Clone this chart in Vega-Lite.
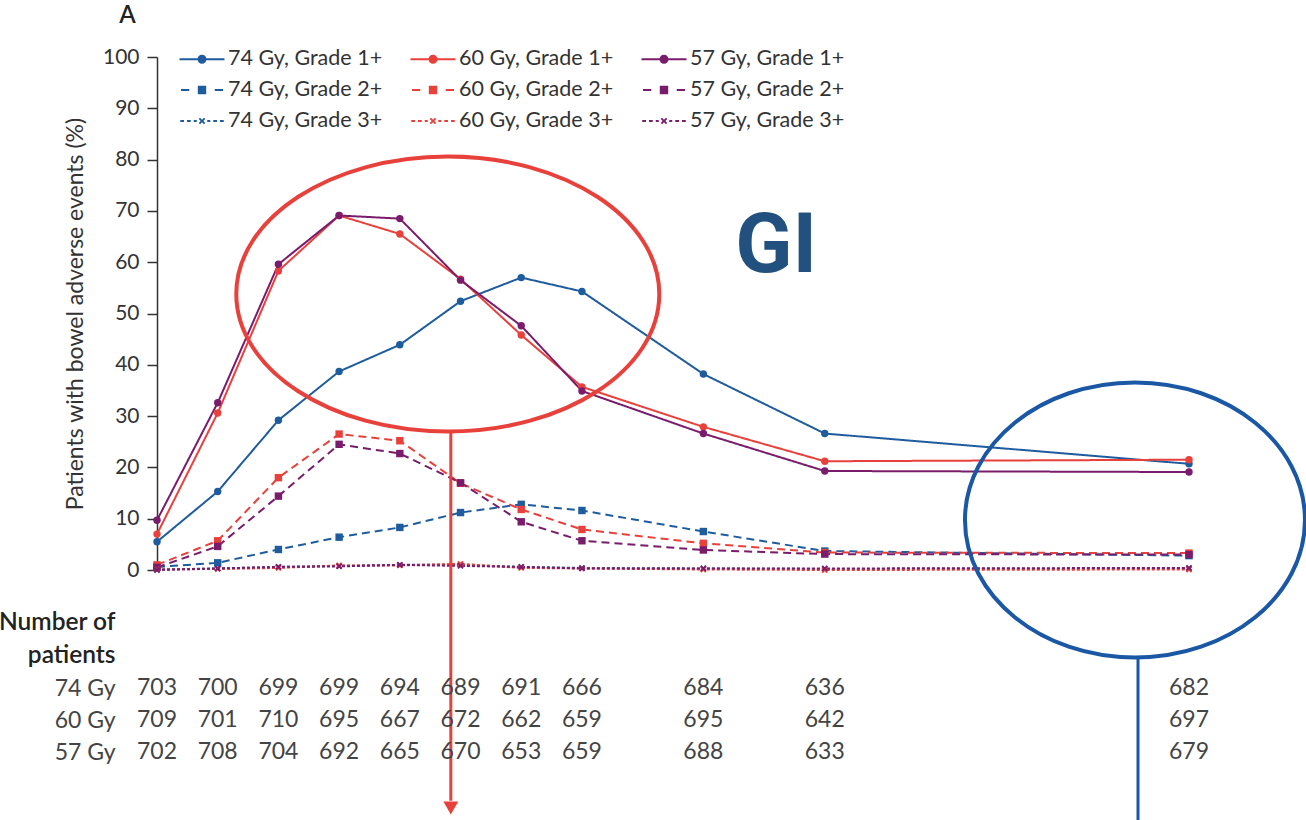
{
  "$schema": "https://vega.github.io/schema/vega-lite/v6.json",
  "width": 1032,
  "height": 513,
  "autosize": {"type": "none"},
  "padding": {"left": 157, "top": 57, "right": 117, "bottom": 250},
  "background": "white",
  "config": {
    "view": {"stroke": null},
    "font": "Lato",
    "axis": {"labelFont": "Lato", "titleFont": "Lato"},
    "legend": {"labelFont": "Lato"},
    "text": {"font": "Lato"}
  },
  "datasets": {
    "curves": [
      {"month": 1, "series": "74 Gy, Grade 1+", "value": 5.5},
      {"month": 2, "series": "74 Gy, Grade 1+", "value": 15.3},
      {"month": 3, "series": "74 Gy, Grade 1+", "value": 29.2},
      {"month": 4, "series": "74 Gy, Grade 1+", "value": 38.7},
      {"month": 5, "series": "74 Gy, Grade 1+", "value": 43.9},
      {"month": 6, "series": "74 Gy, Grade 1+", "value": 52.4},
      {"month": 7, "series": "74 Gy, Grade 1+", "value": 57.0},
      {"month": 8, "series": "74 Gy, Grade 1+", "value": 54.3},
      {"month": 10, "series": "74 Gy, Grade 1+", "value": 38.2},
      {"month": 12, "series": "74 Gy, Grade 1+", "value": 26.6},
      {"month": 18, "series": "74 Gy, Grade 1+", "value": 20.7},
      {"month": 1, "series": "60 Gy, Grade 1+", "value": 7.0},
      {"month": 2, "series": "60 Gy, Grade 1+", "value": 30.6},
      {"month": 3, "series": "60 Gy, Grade 1+", "value": 58.3},
      {"month": 4, "series": "60 Gy, Grade 1+", "value": 69.1},
      {"month": 5, "series": "60 Gy, Grade 1+", "value": 65.5},
      {"month": 6, "series": "60 Gy, Grade 1+", "value": 56.7},
      {"month": 7, "series": "60 Gy, Grade 1+", "value": 45.8},
      {"month": 8, "series": "60 Gy, Grade 1+", "value": 35.7},
      {"month": 10, "series": "60 Gy, Grade 1+", "value": 27.9},
      {"month": 12, "series": "60 Gy, Grade 1+", "value": 21.2},
      {"month": 18, "series": "60 Gy, Grade 1+", "value": 21.5},
      {"month": 1, "series": "57 Gy, Grade 1+", "value": 9.7},
      {"month": 2, "series": "57 Gy, Grade 1+", "value": 32.6},
      {"month": 3, "series": "57 Gy, Grade 1+", "value": 59.6},
      {"month": 4, "series": "57 Gy, Grade 1+", "value": 69.1},
      {"month": 5, "series": "57 Gy, Grade 1+", "value": 68.5},
      {"month": 6, "series": "57 Gy, Grade 1+", "value": 56.5},
      {"month": 7, "series": "57 Gy, Grade 1+", "value": 47.6},
      {"month": 8, "series": "57 Gy, Grade 1+", "value": 34.9},
      {"month": 10, "series": "57 Gy, Grade 1+", "value": 26.6},
      {"month": 12, "series": "57 Gy, Grade 1+", "value": 19.3},
      {"month": 18, "series": "57 Gy, Grade 1+", "value": 19.1},
      {"month": 1, "series": "74 Gy, Grade 2+", "value": 0.6},
      {"month": 2, "series": "74 Gy, Grade 2+", "value": 1.4},
      {"month": 3, "series": "74 Gy, Grade 2+", "value": 4.0},
      {"month": 4, "series": "74 Gy, Grade 2+", "value": 6.4},
      {"month": 5, "series": "74 Gy, Grade 2+", "value": 8.3},
      {"month": 6, "series": "74 Gy, Grade 2+", "value": 11.2},
      {"month": 7, "series": "74 Gy, Grade 2+", "value": 12.8},
      {"month": 8, "series": "74 Gy, Grade 2+", "value": 11.6},
      {"month": 10, "series": "74 Gy, Grade 2+", "value": 7.5},
      {"month": 12, "series": "74 Gy, Grade 2+", "value": 3.7},
      {"month": 18, "series": "74 Gy, Grade 2+", "value": 2.8},
      {"month": 1, "series": "60 Gy, Grade 2+", "value": 1.0},
      {"month": 2, "series": "60 Gy, Grade 2+", "value": 5.7},
      {"month": 3, "series": "60 Gy, Grade 2+", "value": 18.0},
      {"month": 4, "series": "60 Gy, Grade 2+", "value": 26.5},
      {"month": 5, "series": "60 Gy, Grade 2+", "value": 25.2},
      {"month": 6, "series": "60 Gy, Grade 2+", "value": 16.9},
      {"month": 7, "series": "60 Gy, Grade 2+", "value": 11.8},
      {"month": 8, "series": "60 Gy, Grade 2+", "value": 7.9},
      {"month": 10, "series": "60 Gy, Grade 2+", "value": 5.2},
      {"month": 12, "series": "60 Gy, Grade 2+", "value": 3.4},
      {"month": 18, "series": "60 Gy, Grade 2+", "value": 3.3},
      {"month": 1, "series": "57 Gy, Grade 2+", "value": 0.5},
      {"month": 2, "series": "57 Gy, Grade 2+", "value": 4.6},
      {"month": 3, "series": "57 Gy, Grade 2+", "value": 14.4},
      {"month": 4, "series": "57 Gy, Grade 2+", "value": 24.5},
      {"month": 5, "series": "57 Gy, Grade 2+", "value": 22.7},
      {"month": 6, "series": "57 Gy, Grade 2+", "value": 17.0},
      {"month": 7, "series": "57 Gy, Grade 2+", "value": 9.4},
      {"month": 8, "series": "57 Gy, Grade 2+", "value": 5.7},
      {"month": 10, "series": "57 Gy, Grade 2+", "value": 3.9},
      {"month": 12, "series": "57 Gy, Grade 2+", "value": 3.1},
      {"month": 18, "series": "57 Gy, Grade 2+", "value": 3.0},
      {"month": 1, "series": "74 Gy, Grade 3+", "value": 0.1},
      {"month": 2, "series": "74 Gy, Grade 3+", "value": 0.3},
      {"month": 3, "series": "74 Gy, Grade 3+", "value": 0.6},
      {"month": 4, "series": "74 Gy, Grade 3+", "value": 0.8},
      {"month": 5, "series": "74 Gy, Grade 3+", "value": 1.0},
      {"month": 6, "series": "74 Gy, Grade 3+", "value": 1.0},
      {"month": 7, "series": "74 Gy, Grade 3+", "value": 0.6},
      {"month": 8, "series": "74 Gy, Grade 3+", "value": 0.4},
      {"month": 10, "series": "74 Gy, Grade 3+", "value": 0.3},
      {"month": 12, "series": "74 Gy, Grade 3+", "value": 0.2},
      {"month": 18, "series": "74 Gy, Grade 3+", "value": 0.3},
      {"month": 1, "series": "60 Gy, Grade 3+", "value": 0.1},
      {"month": 2, "series": "60 Gy, Grade 3+", "value": 0.2},
      {"month": 3, "series": "60 Gy, Grade 3+", "value": 0.4},
      {"month": 4, "series": "60 Gy, Grade 3+", "value": 0.9},
      {"month": 5, "series": "60 Gy, Grade 3+", "value": 0.9},
      {"month": 6, "series": "60 Gy, Grade 3+", "value": 1.2},
      {"month": 7, "series": "60 Gy, Grade 3+", "value": 0.4},
      {"month": 8, "series": "60 Gy, Grade 3+", "value": 0.3},
      {"month": 10, "series": "60 Gy, Grade 3+", "value": 0.1},
      {"month": 12, "series": "60 Gy, Grade 3+", "value": 0.0},
      {"month": 18, "series": "60 Gy, Grade 3+", "value": 0.1},
      {"month": 1, "series": "57 Gy, Grade 3+", "value": 0.0},
      {"month": 2, "series": "57 Gy, Grade 3+", "value": 0.3},
      {"month": 3, "series": "57 Gy, Grade 3+", "value": 0.6},
      {"month": 4, "series": "57 Gy, Grade 3+", "value": 0.7},
      {"month": 5, "series": "57 Gy, Grade 3+", "value": 1.0},
      {"month": 6, "series": "57 Gy, Grade 3+", "value": 0.8},
      {"month": 7, "series": "57 Gy, Grade 3+", "value": 0.6},
      {"month": 8, "series": "57 Gy, Grade 3+", "value": 0.3},
      {"month": 10, "series": "57 Gy, Grade 3+", "value": 0.3},
      {"month": 12, "series": "57 Gy, Grade 3+", "value": 0.3},
      {"month": 18, "series": "57 Gy, Grade 3+", "value": 0.4}
    ],
    "counts": [
      {"month": 1, "dose": "74 Gy", "n": 703}, {"month": 2, "dose": "74 Gy", "n": 700}, {"month": 3, "dose": "74 Gy", "n": 699},
      {"month": 4, "dose": "74 Gy", "n": 699}, {"month": 5, "dose": "74 Gy", "n": 694}, {"month": 6, "dose": "74 Gy", "n": 689},
      {"month": 7, "dose": "74 Gy", "n": 691}, {"month": 8, "dose": "74 Gy", "n": 666}, {"month": 10, "dose": "74 Gy", "n": 684},
      {"month": 12, "dose": "74 Gy", "n": 636}, {"month": 18, "dose": "74 Gy", "n": 682},
      {"month": 1, "dose": "60 Gy", "n": 709}, {"month": 2, "dose": "60 Gy", "n": 701}, {"month": 3, "dose": "60 Gy", "n": 710},
      {"month": 4, "dose": "60 Gy", "n": 695}, {"month": 5, "dose": "60 Gy", "n": 667}, {"month": 6, "dose": "60 Gy", "n": 672},
      {"month": 7, "dose": "60 Gy", "n": 662}, {"month": 8, "dose": "60 Gy", "n": 659}, {"month": 10, "dose": "60 Gy", "n": 695},
      {"month": 12, "dose": "60 Gy", "n": 642}, {"month": 18, "dose": "60 Gy", "n": 697},
      {"month": 1, "dose": "57 Gy", "n": 702}, {"month": 2, "dose": "57 Gy", "n": 708}, {"month": 3, "dose": "57 Gy", "n": 704},
      {"month": 4, "dose": "57 Gy", "n": 692}, {"month": 5, "dose": "57 Gy", "n": 665}, {"month": 6, "dose": "57 Gy", "n": 670},
      {"month": 7, "dose": "57 Gy", "n": 653}, {"month": 8, "dose": "57 Gy", "n": 659}, {"month": 10, "dose": "57 Gy", "n": 688},
      {"month": 12, "dose": "57 Gy", "n": 633}, {"month": 18, "dose": "57 Gy", "n": 679}
    ]
  },
  "layer": [
    {
      "layer": [
        {
          "data": {"name": "curves"},
          "mark": {"type": "point", "filled": true, "opacity": 0},
          "encoding": {
            "x": {"field": "month", "type": "quantitative",
              "scale": {"domain": [1, 18], "nice": false, "zero": false},
              "axis": {"values": [1, 2, 3, 4, 5, 6, 7, 8, 10, 12, 18], "title": null, "grid": false, "labelFontSize": 21, "labelColor": "#333", "tickSize": 8, "labelPadding": 13, "domainColor": "#333", "tickColor": "#333", "domainWidth": 1.5, "tickWidth": 1.5}},
            "y": {"field": "value", "type": "quantitative",
              "scale": {"domain": [0, 100], "nice": false},
              "axis": {"values": [0, 10, 20, 30, 40, 50, 60, 70, 80, 90, 100], "title": "Patients with bowel adverse events (%)", "grid": false, "labelFontSize": 21, "labelColor": "#333", "titleFontSize": 23, "titleFontWeight": "normal", "titleColor": "#333", "titlePadding": 15, "tickSize": 10, "labelPadding": 8, "domainColor": "#333", "tickColor": "#333", "domainWidth": 1.5, "tickWidth": 1.5}},
            "color": {"field": "series", "type": "nominal",
              "scale": {
                "domain": ["74 Gy, Grade 1+", "74 Gy, Grade 2+", "74 Gy, Grade 3+", "60 Gy, Grade 1+", "60 Gy, Grade 2+", "60 Gy, Grade 3+", "57 Gy, Grade 1+", "57 Gy, Grade 2+", "57 Gy, Grade 3+"],
                "range": ["#1f5c9e", "#1f5c9e", "#1f5c9e", "#e8413c", "#e8413c", "#e8413c", "#7a1c6c", "#7a1c6c", "#7a1c6c"]},
              "legend": {
                "title": null, "orient": "none", "legendX": 30, "legendY": -13, "columns": 3, "columnPadding": 27, "rowPadding": 5,
                "labelFontSize": 21.5, "labelColor": "#333", "symbolSize": 900, "symbolStrokeWidth": 0, "symbolOpacity": 1, "labelOffset": 11, "padding": 0}},
            "shape": {"field": "series", "type": "nominal",
              "scale": {
                "domain": ["74 Gy, Grade 1+", "74 Gy, Grade 2+", "74 Gy, Grade 3+", "60 Gy, Grade 1+", "60 Gy, Grade 2+", "60 Gy, Grade 3+", "57 Gy, Grade 1+", "57 Gy, Grade 2+", "57 Gy, Grade 3+"],
                "range": [
                  "M -1.5 -0.07 L 1.5 -0.07 L 1.5 0.07 L -1.5 0.07 Z M -0.3 0 C -0.3 -0.166 -0.166 -0.3 0 -0.3 C 0.166 -0.3 0.3 -0.166 0.3 0 C 0.3 0.166 0.166 0.3 0 0.3 C -0.166 0.3 -0.3 0.166 -0.3 0 Z",
                  "M -1.4 -0.07 L -0.85 -0.07 L -0.85 0.07 L -1.4 0.07 Z M 0.85 -0.07 L 1.4 -0.07 L 1.4 0.07 L 0.85 0.07 Z M -0.28 -0.28 L 0.28 -0.28 L 0.28 0.28 L -0.28 0.28 Z",
                  "M -1.45 -0.06 L -1.2 -0.06 L -1.2 0.06 L -1.45 0.06 Z M -1.0 -0.06 L -0.75 -0.06 L -0.75 0.06 L -1.0 0.06 Z M -0.55 -0.06 L -0.35 -0.06 L -0.35 0.06 L -0.55 0.06 Z M 0.35 -0.06 L 0.55 -0.06 L 0.55 0.06 L 0.35 0.06 Z M 0.75 -0.06 L 1.0 -0.06 L 1.0 0.06 L 0.75 0.06 Z M 1.2 -0.06 L 1.45 -0.06 L 1.45 0.06 L 1.2 0.06 Z M -0.22 -0.13 L -0.13 -0.22 L 0 -0.09 L 0.13 -0.22 L 0.22 -0.13 L 0.09 0 L 0.22 0.13 L 0.13 0.22 L 0 0.09 L -0.13 0.22 L -0.22 0.13 L -0.09 0 Z",
                  "M -1.5 -0.07 L 1.5 -0.07 L 1.5 0.07 L -1.5 0.07 Z M -0.3 0 C -0.3 -0.166 -0.166 -0.3 0 -0.3 C 0.166 -0.3 0.3 -0.166 0.3 0 C 0.3 0.166 0.166 0.3 0 0.3 C -0.166 0.3 -0.3 0.166 -0.3 0 Z",
                  "M -1.4 -0.07 L -0.85 -0.07 L -0.85 0.07 L -1.4 0.07 Z M 0.85 -0.07 L 1.4 -0.07 L 1.4 0.07 L 0.85 0.07 Z M -0.28 -0.28 L 0.28 -0.28 L 0.28 0.28 L -0.28 0.28 Z",
                  "M -1.45 -0.06 L -1.2 -0.06 L -1.2 0.06 L -1.45 0.06 Z M -1.0 -0.06 L -0.75 -0.06 L -0.75 0.06 L -1.0 0.06 Z M -0.55 -0.06 L -0.35 -0.06 L -0.35 0.06 L -0.55 0.06 Z M 0.35 -0.06 L 0.55 -0.06 L 0.55 0.06 L 0.35 0.06 Z M 0.75 -0.06 L 1.0 -0.06 L 1.0 0.06 L 0.75 0.06 Z M 1.2 -0.06 L 1.45 -0.06 L 1.45 0.06 L 1.2 0.06 Z M -0.22 -0.13 L -0.13 -0.22 L 0 -0.09 L 0.13 -0.22 L 0.22 -0.13 L 0.09 0 L 0.22 0.13 L 0.13 0.22 L 0 0.09 L -0.13 0.22 L -0.22 0.13 L -0.09 0 Z",
                  "M -1.5 -0.07 L 1.5 -0.07 L 1.5 0.07 L -1.5 0.07 Z M -0.3 0 C -0.3 -0.166 -0.166 -0.3 0 -0.3 C 0.166 -0.3 0.3 -0.166 0.3 0 C 0.3 0.166 0.166 0.3 0 0.3 C -0.166 0.3 -0.3 0.166 -0.3 0 Z",
                  "M -1.4 -0.07 L -0.85 -0.07 L -0.85 0.07 L -1.4 0.07 Z M 0.85 -0.07 L 1.4 -0.07 L 1.4 0.07 L 0.85 0.07 Z M -0.28 -0.28 L 0.28 -0.28 L 0.28 0.28 L -0.28 0.28 Z",
                  "M -1.45 -0.06 L -1.2 -0.06 L -1.2 0.06 L -1.45 0.06 Z M -1.0 -0.06 L -0.75 -0.06 L -0.75 0.06 L -1.0 0.06 Z M -0.55 -0.06 L -0.35 -0.06 L -0.35 0.06 L -0.55 0.06 Z M 0.35 -0.06 L 0.55 -0.06 L 0.55 0.06 L 0.35 0.06 Z M 0.75 -0.06 L 1.0 -0.06 L 1.0 0.06 L 0.75 0.06 Z M 1.2 -0.06 L 1.45 -0.06 L 1.45 0.06 L 1.2 0.06 Z M -0.22 -0.13 L -0.13 -0.22 L 0 -0.09 L 0.13 -0.22 L 0.22 -0.13 L 0.09 0 L 0.22 0.13 L 0.13 0.22 L 0 0.09 L -0.13 0.22 L -0.22 0.13 L -0.09 0 Z"
                ]}}
          }
        },
        {
          "data": {"name": "curves"},
          "mark": {"type": "line", "strokeWidth": 2},
          "encoding": {
            "x": {"field": "month", "type": "quantitative"},
            "y": {"field": "value", "type": "quantitative"},
            "color": {"field": "series", "type": "nominal"},
            "strokeDash": {"field": "series", "type": "nominal", "legend": null,
              "scale": {
                "domain": ["74 Gy, Grade 1+", "74 Gy, Grade 2+", "74 Gy, Grade 3+", "60 Gy, Grade 1+", "60 Gy, Grade 2+", "60 Gy, Grade 3+", "57 Gy, Grade 1+", "57 Gy, Grade 2+", "57 Gy, Grade 3+"],
                "range": [[1, 0], [8, 5], [3, 2], [1, 0], [8, 5], [3, 2], [1, 0], [8, 5], [3, 2]]}}
          }
        },
        {
          "data": {"name": "curves"},
          "transform": [{"filter": "indexof(datum.series, 'Grade 1+') >= 0"}],
          "mark": {"type": "point", "shape": "circle", "filled": true, "opacity": 1, "size": 55},
          "encoding": {
            "x": {"field": "month", "type": "quantitative"},
            "y": {"field": "value", "type": "quantitative"},
            "color": {"field": "series", "type": "nominal"}
          }
        },
        {
          "data": {"name": "curves"},
          "transform": [{"filter": "indexof(datum.series, 'Grade 2+') >= 0"}],
          "mark": {"type": "point", "shape": "square", "filled": true, "opacity": 1, "size": 55},
          "encoding": {
            "x": {"field": "month", "type": "quantitative"},
            "y": {"field": "value", "type": "quantitative"},
            "color": {"field": "series", "type": "nominal"}
          }
        },
        {
          "data": {"name": "curves"},
          "transform": [{"filter": "indexof(datum.series, 'Grade 3+') >= 0"}],
          "mark": {"type": "point", "shape": "M -1 -0.6 L -0.6 -1 L 0 -0.4 L 0.6 -1 L 1 -0.6 L 0.4 0 L 1 0.6 L 0.6 1 L 0 0.4 L -0.6 1 L -1 0.6 L -0.4 0 Z", "filled": true, "opacity": 1, "size": 40},
          "encoding": {
            "x": {"field": "month", "type": "quantitative"},
            "y": {"field": "value", "type": "quantitative"},
            "color": {"field": "series", "type": "nominal"}
          }
        },
        {
          "data": {"values": [{}]},
          "mark": {"type": "point", "shape": "M 1 0 C 1 0.359 0.5523 0.65 0 0.65 C -0.5523 0.65 -1 0.359 -1 0 C -1 -0.359 -0.5523 -0.65 0 -0.65 C 0.5523 -0.65 1 -0.359 1 0 Z", "size": 178929, "filled": false, "stroke": "#e8413c", "strokeWidth": 4, "opacity": 1},
          "encoding": {"x": {"datum": 5.79}, "y": {"datum": 53.8}}
        },
        {
          "data": {"values": [{}]},
          "mark": {"type": "point", "shape": "M 1 0 C 1 0.4468 0.5523 0.809 0 0.809 C -0.5523 0.809 -1 0.4468 -1 0 C -1 -0.4468 -0.5523 -0.809 0 -0.809 C 0.5523 -0.809 1 -0.4468 1 0 Z", "size": 115600, "filled": false, "stroke": "#1a57a5", "strokeWidth": 4, "opacity": 1},
          "encoding": {"x": {"datum": 17.11}, "y": {"datum": 9.75}}
        },
        {
          "data": {"values": [{}]},
          "mark": {"type": "rule", "color": "#e8413c", "strokeWidth": 3},
          "encoding": {"x": {"datum": 5.84}, "y": {"datum": 26.9}, "y2": {"datum": -45.0}}
        },
        {
          "data": {"values": [{}]},
          "mark": {"type": "point", "shape": "triangle-down", "size": 220, "filled": true, "color": "#e8413c", "opacity": 1},
          "encoding": {"x": {"datum": 5.84}, "y": {"datum": -46.4}}
        },
        {
          "data": {"values": [{}]},
          "mark": {"type": "rule", "color": "#1a57a5", "strokeWidth": 3},
          "encoding": {"x": {"datum": 17.16}, "y": {"datum": -17.2}, "y2": {"datum": -49.5}}
        },
        {
          "data": {"values": [{}]},
          "mark": {"type": "text", "text": "GI", "fontSize": 84, "fontWeight": "bold", "font": "Roboto", "color": "#22507f", "align": "center", "baseline": "alphabetic"},
          "encoding": {"x": {"datum": 11.2}, "y": {"datum": 58.1}}
        },
        {
          "data": {"values": [{}]},
          "mark": {"type": "text", "text": "A", "fontSize": 24, "fontWeight": 600, "font": "Lato", "color": "#222", "align": "left", "baseline": "alphabetic"},
          "encoding": {"x": {"datum": 0.38}, "y": {"datum": 106.6}}
        }
      ]
    },
    {
      "data": {"name": "counts"},
      "mark": {"type": "text", "fontSize": 23, "color": "#444", "align": "center", "baseline": "middle"},
      "encoding": {
        "x": {"field": "month", "type": "quantitative", "axis": null},
        "y": {"field": "dose", "type": "nominal",
          "scale": {"type": "point", "domain": ["74 Gy", "60 Gy", "57 Gy"], "range": [631, 695], "padding": 0},
          "axis": {"orient": "left", "domain": false, "ticks": false, "tickSize": 0, "labelPadding": 42, "labelFontSize": 23, "labelColor": "#444", "grid": false,
            "title": ["Number of", "patients"], "titleAngle": 0, "titleAlign": "right", "titleBaseline": "alphabetic", "titleX": -42, "titleY": 572,
            "titleFontSize": 24.5, "titleFontWeight": 600, "titleColor": "#222", "titleLineHeight": 33}},
        "text": {"field": "n", "type": "nominal"}
      }
    }
  ],
  "resolve": {"scale": {"y": "independent"}}
}
